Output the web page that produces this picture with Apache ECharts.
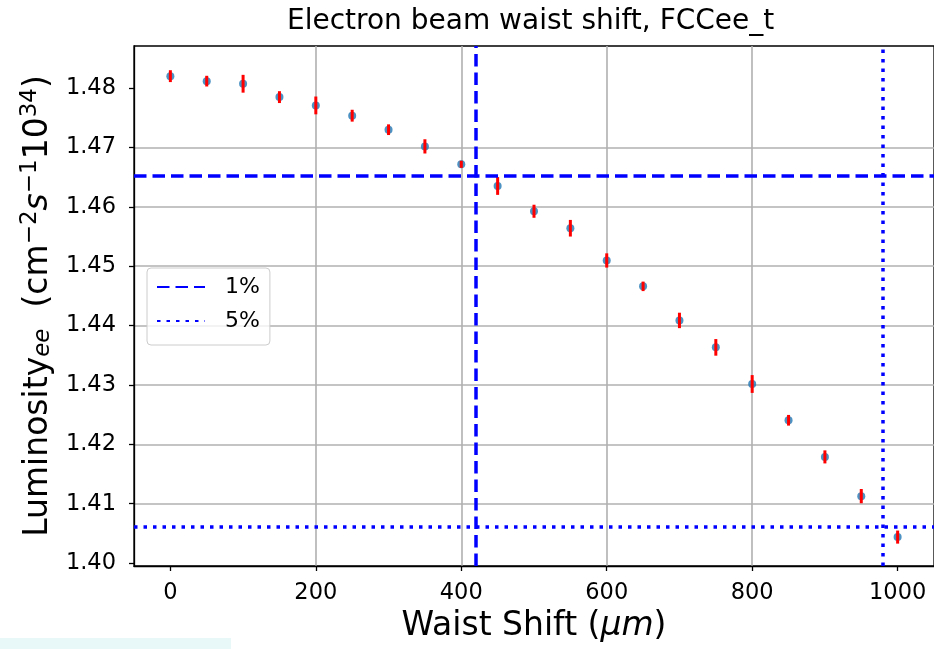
<!DOCTYPE html>
<html>
<head>
<meta charset="utf-8">
<script src="https://cdn.jsdelivr.net/npm/echarts@6/dist/echarts.min.js"></script>
<style>
html,body{margin:0;padding:0;background:#fff;}
#chart{width:934px;height:649px;}
</style>
</head>
<body>
<div id="chart"></div>
<script>
// ---- data ----
const xVals = [0, 50, 100, 150, 200, 250, 300, 350, 400, 450, 500, 550, 600, 650, 700, 750, 800, 850, 900, 950, 1000];
const yVals = [1.48202, 1.48118, 1.48074, 1.47849, 1.47709, 1.47536, 1.47300, 1.47019, 1.46717, 1.46352, 1.45926,
               1.45640, 1.45097, 1.44661, 1.44087, 1.43633, 1.43016, 1.42405, 1.41788, 1.41127, 1.40437];
const yErr  = [0.0010, 0.0009, 0.0015, 0.0010, 0.0015, 0.0010, 0.0009, 0.0012, 0.0006, 0.0015, 0.0011,
               0.0014, 0.0012, 0.0008, 0.0013, 0.0014, 0.0015, 0.0009, 0.0011, 0.0012, 0.0011];
const xTicks = [0, 200, 400, 600, 800, 1000];
const yTicks = [1.40, 1.41, 1.42, 1.43, 1.44, 1.45, 1.46, 1.47, 1.48];
const onePct = { x: 420, y: 1.4653 };
const fivePct = { x: 980, y: 1.4061 };
const legendNames = ['1%', '5%'];
const titleText = 'Electron beam waist shift, FCCee_t';

const FONT = 'DejaVu Sans';
const points = xVals.map((x, i) => [x, yVals[i]]);
const bars = xVals.map((x, i) => [x, yVals[i], yErr[i]]);

const chart = echarts.init(document.getElementById('chart'), null, { renderer: 'canvas' });
const option = {
  backgroundColor: '#ffffff',
  animation: false,
  title: {
    text: titleText,
    left: 287, top: 8, padding: 0,
    textStyle: { fontFamily: FONT, fontSize: 28, fontWeight: 'normal', color: '#000' }
  },
  grid: {
    left: 134, top: 46, width: 801, height: 520,
    show: true, borderColor: '#000', borderWidth: 1.3, backgroundColor: 'transparent'
  },
  legend: {
    data: legendNames,
    orient: 'vertical',
    left: 147, top: 268,
    padding: [7, 10, 12, 9],
    itemGap: 10, itemWidth: 48, itemHeight: 14,
    backgroundColor: 'rgba(255,255,255,0.8)',
    borderColor: '#cccccc', borderWidth: 1, borderRadius: 4,
    itemStyle: { opacity: 0 },
    textStyle: { fontFamily: FONT, fontSize: 22, color: '#000', lineHeight: 24, padding: [0, 0, 0, 15] },
    selectedMode: false
  },
  xAxis: {
    type: 'value', min: -50, max: 1050, position: 'bottom',
    axisLine: { show: true, onZero: false, lineStyle: { color: '#000', width: 1.3 } },
    axisTick: { show: true, customValues: xTicks, length: 5, lineStyle: { color: '#000', width: 1.3 } },
    axisLabel: { customValues: xTicks, margin: 16, fontFamily: FONT, fontSize: 22.5, color: '#000',
                 formatter: v => String(v) },
    splitLine: { show: true, showMinLine: false, showMaxLine: false, lineStyle: { color: '#b0b0b0', width: 1.6 } },
    name: '{n|Waist Shift (}{i|μm}{n|)}',
    nameLocation: 'middle', nameGap: 44,
    nameTextStyle: {
      rich: {
        n: { fontFamily: FONT, fontSize: 33, color: '#000' },
        i: { fontFamily: FONT, fontSize: 33, color: '#000', fontStyle: 'italic' }
      }
    }
  },
  yAxis: {
    type: 'value', min: 1.3995, max: 1.4871, splitNumber: 8,
    axisLine: { show: true, onZero: false, lineStyle: { color: '#000', width: 1.3 } },
    axisTick: { show: true, customValues: yTicks, length: 5, lineStyle: { color: '#000', width: 1.3 } },
    axisLabel: { customValues: yTicks, margin: 18, fontFamily: FONT, fontSize: 22.5, color: '#000',
                 formatter: v => v.toFixed(2) },
    splitLine: { show: true, showMinLine: false, showMaxLine: false, lineStyle: { color: '#b0b0b0', width: 1.6 } },
    name: '{n|Luminosity}{sub|ee}{n|  (cm}{sup|−2}{i|s}{sup|−1}{n|10}{sup|34}{n|)}',
    nameLocation: 'middle', nameRotate: 90, nameGap: 74,
    nameTextStyle: {
      rich: {
        n: { fontFamily: FONT, fontSize: 33, color: '#000' },
        i: { fontFamily: FONT, fontSize: 33, color: '#000', fontStyle: 'italic' },
        sub: { fontFamily: FONT, fontSize: 23, color: '#000', fontStyle: 'italic', padding: [10, 0, 0, 0] },
        sup: { fontFamily: FONT, fontSize: 23, color: '#000', padding: [0, 0, 16, 0] }
      }
    }
  },
  graphic: [
    { type: 'rect', left: 0, top: 638, shape: { width: 231, height: 11 }, style: { fill: '#e8f8f8' }, silent: true }
  ],
  series: [
    {
      name: 'data', type: 'scatter', data: points,
      symbol: 'circle', symbolSize: 8,
      itemStyle: { color: '#1f77b4' }, z: 3
    },
    {
      name: 'err', type: 'custom', data: bars, z: 4,
      encode: { x: 0, y: 1 },
      renderItem: function (params, api) {
        const x = api.value(0), y = api.value(1), e = api.value(2);
        const p1 = api.coord([x, y - e]);
        const p2 = api.coord([x, y + e]);
        return { type: 'line', shape: { x1: p1[0], y1: p1[1], x2: p2[0], y2: p2[1] },
                 style: { stroke: '#ff0000', lineWidth: 3 } };
      }
    },
    {
      name: legendNames[0], type: 'line', data: [], symbol: 'none', color: '#0000ff',
      lineStyle: { color: '#0000ff', width: 3.5, type: [12.5, 6] },
      itemStyle: { color: '#0000ff', opacity: 0 },
      markLine: {
        silent: true, symbol: 'none', label: { show: false }, animation: false, precision: 6,
        lineStyle: { color: '#0000ff', width: 3.5, type: [12.5, 6] },
        emphasis: { disabled: true },
        data: [{ xAxis: onePct.x }, { yAxis: onePct.y }]
      },
      z: 2
    },
    {
      name: legendNames[1], type: 'line', data: [], symbol: 'none', color: '#0000ff',
      lineStyle: { color: '#0000ff', width: 3.5, type: [3.5, 6] },
      itemStyle: { color: '#0000ff', opacity: 0 },
      markLine: {
        silent: true, symbol: 'none', label: { show: false }, animation: false, precision: 6,
        lineStyle: { color: '#0000ff', width: 3.5, type: [3.5, 6] },
        emphasis: { disabled: true },
        data: [{ xAxis: fivePct.x }, { yAxis: fivePct.y }]
      },
      z: 2
    }
  ]
};
chart.setOption(option);
</script>
</body>
</html>
